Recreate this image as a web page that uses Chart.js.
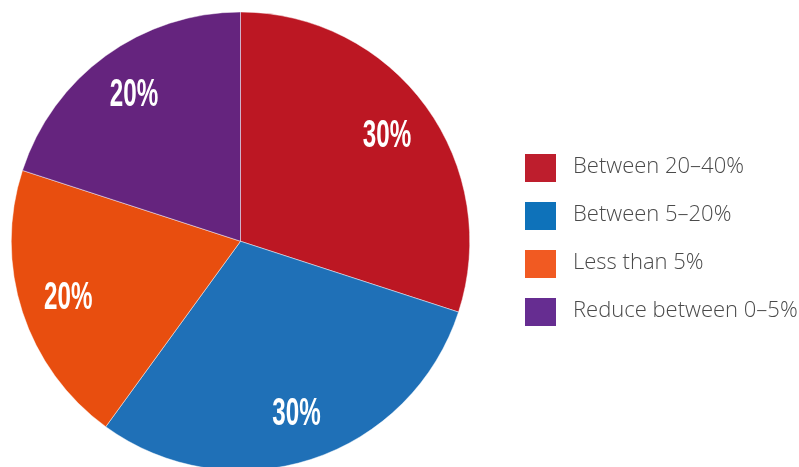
<!DOCTYPE html>
<html>
<head>
<meta charset="utf-8">
<script src="https://cdn.jsdelivr.net/npm/chart.js@4.4.1/dist/chart.umd.min.js"></script>
<style>
  html, body { margin: 0; padding: 0; background: #fff; overflow: hidden; }
  #wrap { width: 799px; height: 467px; overflow: hidden; }
</style>
</head>
<body>
<div id="wrap"><canvas id="pie" width="799" height="471"></canvas></div>
<script>
// data
const categories = ['Between 20–40%', 'Between 5–20%', 'Less than 5%', 'Reduce between 0–5%'];
const shares = [30, 30, 20, 20];
const sliceColors = ['#bc1723', '#1f70b7', '#e84e0f', '#65247e'];
const swatchColors = ['#be1e2d', '#0e72ba', '#f15a22', '#662d91'];

// white condensed % labels placed out toward the rim
const sliceLabels = {
    id: 'sliceLabels',
    afterDatasetsDraw(chart) {
        const ctx = chart.ctx;
        const meta = chart.getDatasetMeta(0);
        meta.data.forEach((arc, i) => {
            const p = arc.getProps(['x', 'y', 'startAngle', 'endAngle', 'outerRadius'], true);
            const mid = (p.startAngle + p.endAngle) / 2;
            const r = p.outerRadius * 0.79;
            const x = p.x + Math.cos(mid) * r;
            const y = p.y + Math.sin(mid) * r;
            ctx.save();
            ctx.translate(x, y);
            ctx.scale(0.62, 1);
            ctx.fillStyle = '#fff';
            ctx.font = 'bold 39px "Liberation Sans Narrow", "Liberation Sans", Arial, sans-serif';
            ctx.textAlign = 'center';
            ctx.textBaseline = 'middle';
            ctx.fillText(shares[i] + '%', 0, 1);
            ctx.restore();
        });
    }
};

// legend on the right, drawn on the canvas
const sideLegend = {
    id: 'sideLegend',
    afterDraw(chart) {
        const ctx = chart.ctx;
        ctx.save();
        ctx.font = '300 22px "Open Sans", sans-serif';
        ctx.textBaseline = 'middle';
        ctx.textAlign = 'left';
        categories.forEach((name, i) => {
            const top = 154 + i * 48;
            ctx.fillStyle = swatchColors[i];
            ctx.fillRect(525, top, 31, 28);
            ctx.fillStyle = '#4a4a4a';
            ctx.fillText(name, 573, top + 13);
        });
        ctx.restore();
    }
};

new Chart(document.getElementById('pie'), {
    type: 'pie',
    data: {
        labels: categories,
        datasets: [{
            data: shares,
            backgroundColor: sliceColors,
            borderColor: 'rgba(255,255,255,0.45)',
            borderWidth: 1
        }]
    },
    options: {
        responsive: false,
        animation: false,
        devicePixelRatio: 1,
        layout: { padding: { top: 11.5, left: 0, right: 318, bottom: 0 } },
        plugins: {
            legend: { display: false },
            tooltip: { enabled: false }
        }
    },
    plugins: [sliceLabels, sideLegend]
});
</script>
</body>
</html>
